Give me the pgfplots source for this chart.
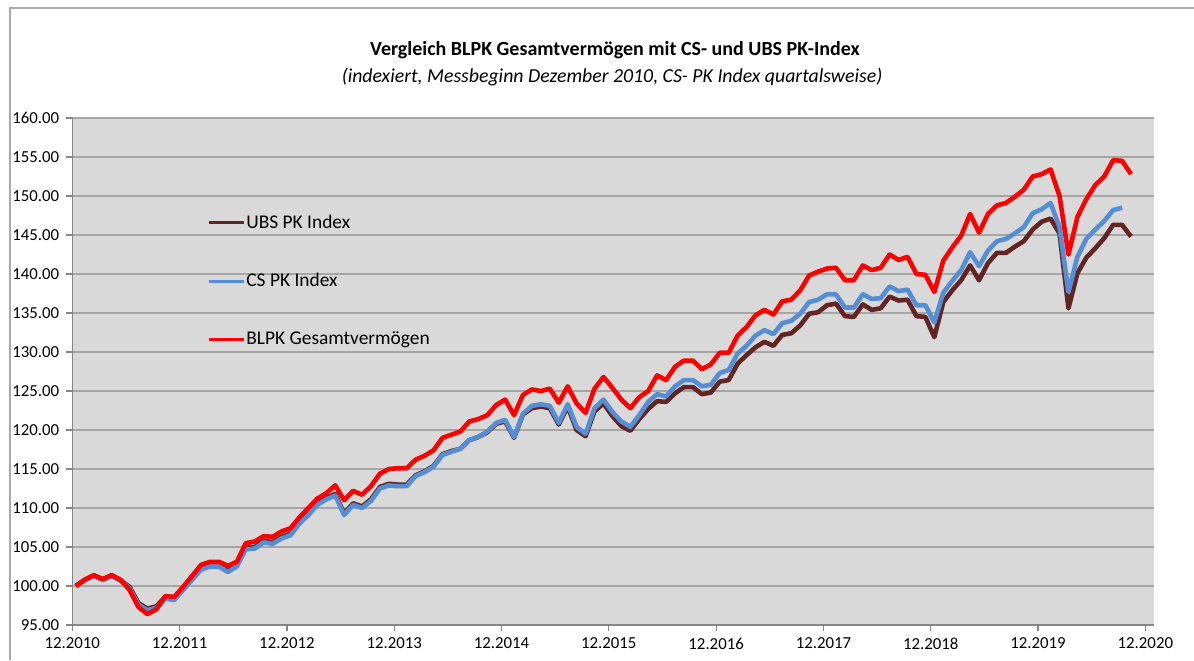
\documentclass[border=0pt]{standalone}
\usepackage{pgfplots}
\pgfplotsset{compat=1.18}
\usepackage{pgfplotstable}
\usepackage{fontspec}
\setmainfont{Carlito}
\definecolor{ubs}{RGB}{99,37,35}
\definecolor{cs}{RGB}{85,142,213}
\definecolor{blpk}{RGB}{255,0,0}
\definecolor{bg}{RGB}{217,217,217}
\definecolor{gridc}{RGB}{166,166,166}
\definecolor{axc}{RGB}{134,134,134}

\pgfplotstableread{
i ubs cs blpk
0 100.0 100.0 100.0
1 100.8 100.8 100.8
2 101.3 101.3 101.4
3 100.8 100.8 100.9
4 101.3 101.3 101.4
5 100.7 100.7 100.8
6 99.9 99.7 99.5
7 97.8 97.6 97.3
8 97.1 96.9 96.4
9 97.4 97.2 97.0
10 98.6 98.4 98.7
11 98.4 98.2 98.6
12 99.7 99.5 99.9
13 101.0 100.8 101.3
14 102.3 102.1 102.7
15 102.7 102.5 103.1
16 102.7 102.5 103.1
17 102.0 101.8 102.6
18 102.7 102.5 103.1
19 104.9 104.7 105.5
20 105.0 104.8 105.7
21 105.8 105.6 106.4
22 105.6 105.4 106.3
23 106.3 106.1 107.0
24 106.7 106.5 107.4
25 108.2 108.0 108.8
26 109.3 109.1 110.0
27 110.6 110.4 111.2
28 111.3 111.1 111.9
29 111.8 111.6 112.9
30 109.3 109.1 111.0
31 110.6 110.4 112.2
32 110.2 110.0 111.7
33 111.1 110.9 112.8
34 112.7 112.5 114.4
35 113.1 112.9 115.0
36 113.0 112.8 115.1
37 113.0 112.8 115.1
38 114.2 114.1 116.2
39 114.7 114.6 116.7
40 115.4 115.3 117.4
41 116.9 116.8 119.0
42 117.3 117.2 119.4
43 117.6 117.6 119.8
44 118.7 118.7 121.1
45 119.1 119.1 121.4
46 119.7 119.8 121.9
47 120.8 120.9 123.2
48 121.1 121.3 123.9
49 119.0 119.1 121.9
50 122.0 122.1 124.5
51 122.8 123.1 125.2
52 123.0 123.3 125.0
53 122.8 123.1 125.3
54 120.7 120.9 123.5
55 123.0 123.3 125.6
56 120.0 120.4 123.4
57 119.2 119.5 122.2
58 122.4 122.8 125.3
59 123.4 123.9 126.8
60 121.8 122.3 125.4
61 120.5 121.1 123.9
62 119.9 120.4 122.8
63 121.4 121.9 124.2
64 122.7 123.6 125.0
65 123.7 124.6 127.0
66 123.6 124.3 126.4
67 124.7 125.6 128.1
68 125.5 126.4 128.9
69 125.5 126.4 128.9
70 124.6 125.6 127.8
71 124.8 125.8 128.4
72 126.2 127.3 129.9
73 126.4 127.7 129.9
74 128.5 129.8 132.1
75 129.6 130.8 133.2
76 130.6 132.1 134.7
77 131.3 132.8 135.4
78 130.8 132.3 134.8
79 132.2 133.7 136.5
80 132.4 134.0 136.7
81 133.4 134.9 137.9
82 134.9 136.4 139.8
83 135.1 136.7 140.3
84 136.0 137.4 140.7
85 136.2 137.4 140.8
86 134.6 135.7 139.2
87 134.5 135.7 139.2
88 136.1 137.4 141.1
89 135.4 136.8 140.5
90 135.6 136.9 140.8
91 137.1 138.4 142.5
92 136.6 137.8 141.8
93 136.7 138.0 142.2
94 134.6 136.0 140.0
95 134.5 136.0 139.9
96 131.9 133.8 137.7
97 136.4 137.6 141.7
98 137.9 139.1 143.4
99 139.2 140.5 144.9
100 141.1 142.8 147.7
101 139.2 141.0 145.3
102 141.4 143.0 147.7
103 142.7 144.2 148.8
104 142.7 144.5 149.1
105 143.5 145.2 149.9
106 144.2 146.0 150.8
107 145.7 147.8 152.5
108 146.7 148.3 152.8
109 147.1 149.1 153.4
110 145.2 146.0 150.0
111 135.6 137.7 142.5
112 140.1 142.2 147.3
113 142.1 144.5 149.6
114 143.3 145.7 151.4
115 144.6 146.8 152.5
116 146.3 148.2 154.6
117 146.3 148.5 154.5
118 144.8 nan 152.8
}\data

\begin{document}
\begin{tikzpicture}
\path[use as bounding box] (0pt,0pt) rectangle (597pt,330pt);
\draw[axc!70, line width=0.6pt] (5pt,0pt) -- (5pt,326pt) -- (597pt,326pt);
\node[font=\fontsize{10}{12}\selectfont\bfseries] at (307.5pt,305pt) {Vergleich BLPK Gesamtvermögen mit CS- und UBS PK-Index};
\node[font=\fontsize{9.9}{12}\selectfont\itshape] at (306pt,291.5pt) {(indexiert, Messbeginn Dezember 2010, CS- PK Index quartalsweise)};
\begin{axis}[
  at={(36.15pt,17.5pt)}, anchor=south west,
  scale only axis, width=541pt, height=253.5pt,
  xmin=-0.4, xmax=120.6, ymin=95, ymax=160,
  axis lines=left,
  axis line style={-, draw=axc, line width=0.6pt},
  xtick={-0.4,11.6,23.6,35.6,47.6,59.6,71.6,83.6,95.6,107.6,119.6},
  xticklabels={12.2010,12.2011,12.2012,12.2013,12.2014,12.2015,12.2016,12.2017,12.2018,12.2019,12.2020},
  ytick={95,100,...,160},
  yticklabel style={/pgf/number format/.cd, fixed, fixed zerofill, precision=2},
  /pgf/number format/assume math mode=true,
  tick style={draw=axc, line width=0.6pt},
  major tick length=3pt, tick align=outside,
  ymajorgrids, grid style={gridc, line width=0.6pt},
  axis background/.style={fill=bg},
  tick label style={font=\fontsize{8.4}{10}\selectfont},
  legend style={at={(0.1245,0.818)}, anchor=north west, draw=none, fill=none,
    font=\fontsize{9.7}{11}\selectfont, row sep=17pt, inner sep=0pt,
    nodes={inner xsep=0.5pt}},
  legend cell align=left,
  legend image code/.code={\draw[#1, line width=1.5pt] (0pt,0pt) -- (17.5pt,0pt);},
]
\addplot[ubs, line width=2.3pt, line join=round] table[x=i, y=ubs] {\data};
\addlegendentry{UBS PK Index}
\addplot[cs, line width=2.3pt, line join=round] table[x=i, y=cs] {\data};
\addlegendentry{CS PK Index}
\addplot[blpk, line width=2.3pt, line join=round] table[x=i, y=blpk] {\data};
\addlegendentry{BLPK Gesamtvermögen}
\end{axis}
\end{tikzpicture}
\end{document}
